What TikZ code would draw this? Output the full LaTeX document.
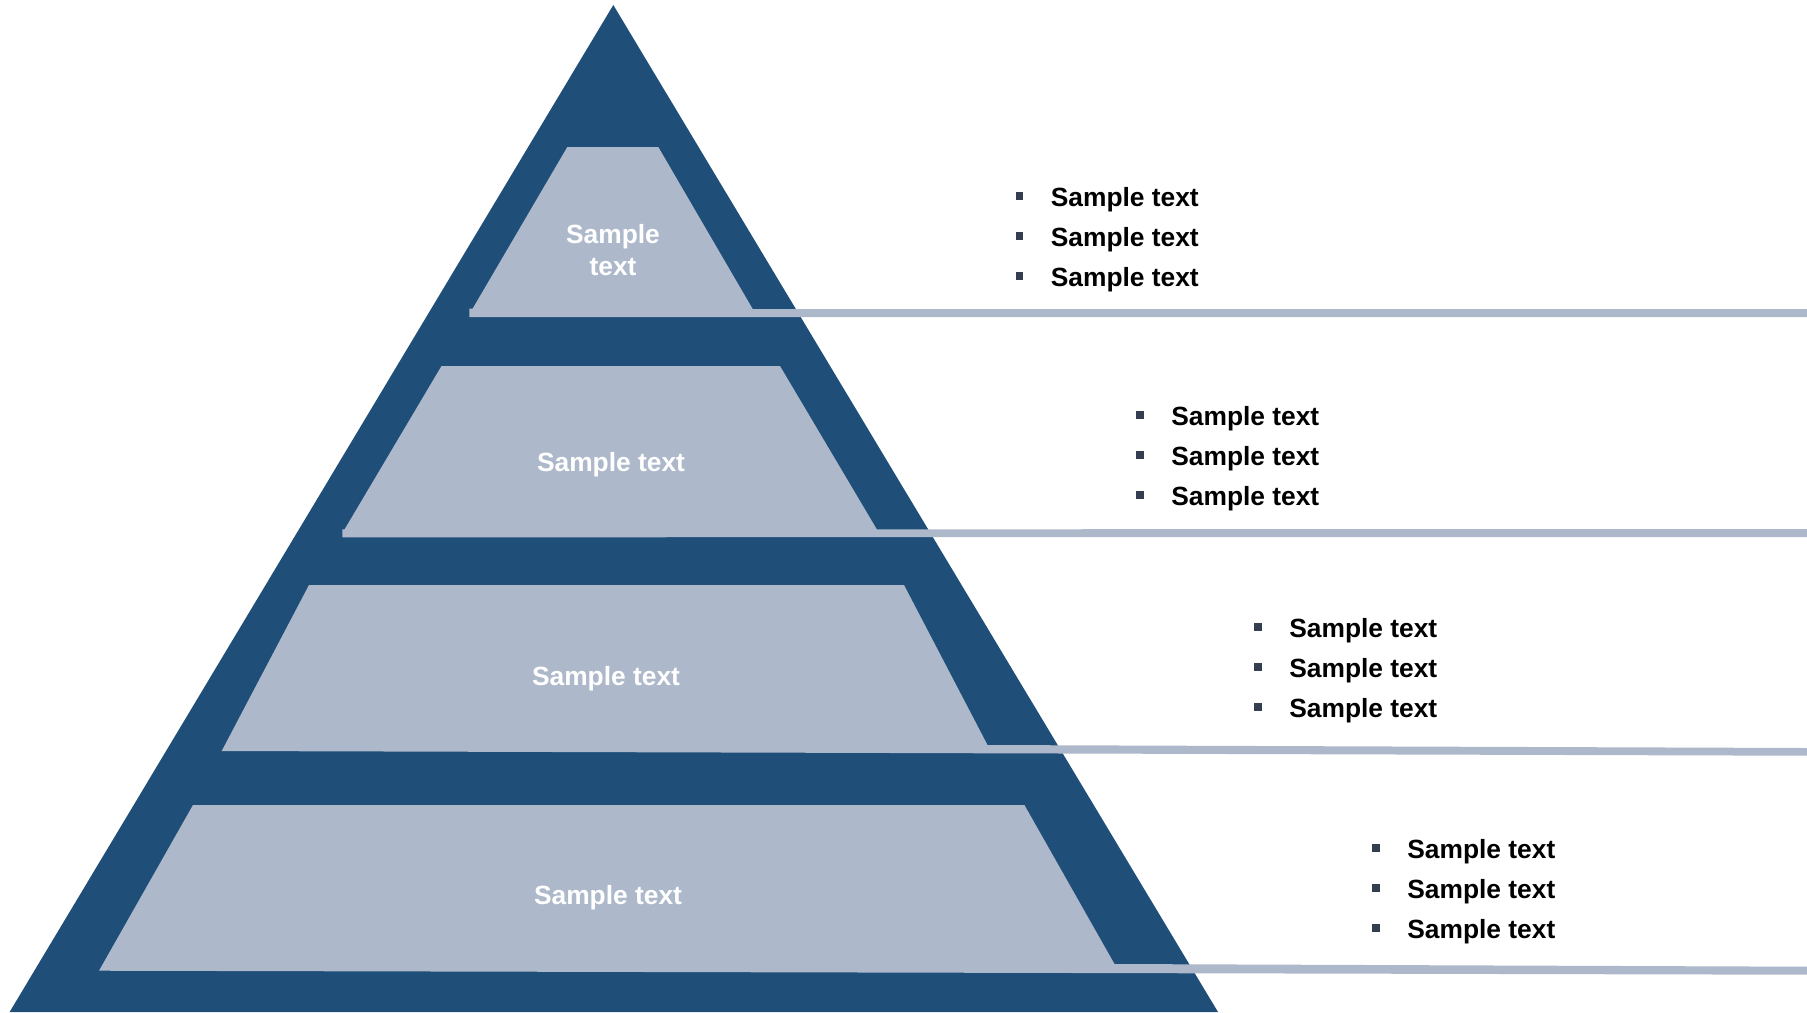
\documentclass[tikz,border=0pt]{standalone}
\usepackage{fontspec}
\setmainfont{Liberation Sans}
\usepackage{tikz}
\definecolor{darkblue}{HTML}{1F4E79}
\definecolor{lightblue}{HTML}{ADB9CA}
\definecolor{bulletgray}{HTML}{333F50}

\begin{document}
\begin{tikzpicture}[x=0.02cm,y=-0.02cm,
      tier/.style={fill=lightblue},
      tier text/.style={text=white,font=\fontsize{15}{18}\selectfont\bfseries,align=center},
      item node/.style={anchor=west,inner sep=0pt,font=\fontsize{15}{18}\selectfont\bfseries},
      bullet node/.style={fill=bulletgray,minimum size=0.155cm,inner sep=0pt}]

  \useasboundingbox (0,0) rectangle (1807,1012);
  \fill[darkblue] (613.3,5) -- (1218,1012) -- (9.6,1012) -- cycle;

  \fill[tier] (567.3,147) -- (658.3,147) -- (752.7,309) -- (1807,309) -- (1807,317)
    -- (469.3,317) -- (469.3,308.5) -- (472.7,308.5) -- cycle;
  \fill[tier] (441.5,366) -- (780,366) -- (876.8,529.3) -- (1807,529) -- (1807,537)
    -- (342.4,537.3) -- (342.4,529.3) -- (344.6,529.3) -- cycle;
  \fill[tier] (309,585) -- (904,585) -- (987.5,745) -- (1807,748) -- (1807,755.7)
    -- (221.7,751) -- cycle;
  \fill[tier] (193,805) -- (1024.4,805) -- (1114.5,964) -- (1807,966.7) -- (1807,974.7)
    -- (99,970.7) -- cycle;

  \node[tier text] (top) at (613,250) {Sample\\text};
  \node[tier text] (upper) at (611,464.5) {Sample text};
  \node[tier text] (lower) at (606,678.5) {Sample text};
  \node[tier text] (base) at (608,897.5) {Sample text};

  \foreach \g/\x/\y in {1/1019.5/196, 2/1140/415, 3/1258/627, 4/1376/848}
    \foreach \i in {0,1,2} {
      \node[bullet node] (b\g\i) at (\x,\y+40*\i) {};
      \node[item node] (s\g\i) at (\x+31,\y+3.5+40*\i) {Sample text};
    }
\end{tikzpicture}
\end{document}
